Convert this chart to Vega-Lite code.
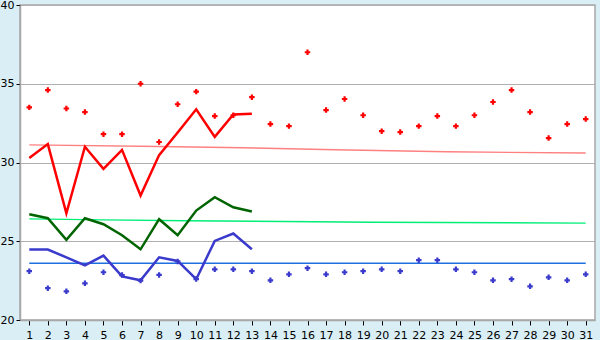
{
  "$schema": "https://vega.github.io/schema/vega-lite/v6.json",
  "autosize": {"type": "none"},
  "width": 575,
  "height": 315,
  "padding": {"left": 20, "top": 5, "right": 5, "bottom": 20},
  "background": "#d9eef5",
  "view": {"fill": "white", "stroke": "#a8a8a8", "strokeWidth": 1.5},
  "config": {
    "axis": {"labelFont": "DejaVu Sans", "labelFontSize": 11, "labelColor": "black", "tickColor": "black", "domainColor": "#a8a8a8", "domainWidth": 1.5, "tickSize": 4, "title": null}
  },
  "datasets": {
    "hi": [
      {"day": 1, "v": 33.5}, {"day": 2, "v": 34.6}, {"day": 3, "v": 33.43}, {"day": 4, "v": 33.2}, {"day": 5, "v": 31.8},
      {"day": 6, "v": 31.8}, {"day": 7, "v": 35.0}, {"day": 8, "v": 31.3}, {"day": 9, "v": 33.7}, {"day": 10, "v": 34.5},
      {"day": 11, "v": 32.95}, {"day": 12, "v": 33.0}, {"day": 13, "v": 34.15}, {"day": 14, "v": 32.44}, {"day": 15, "v": 32.31},
      {"day": 16, "v": 37.0}, {"day": 17, "v": 33.33}, {"day": 18, "v": 34.03}, {"day": 19, "v": 33.0}, {"day": 20, "v": 31.99},
      {"day": 21, "v": 31.93}, {"day": 22, "v": 32.31}, {"day": 23, "v": 32.95}, {"day": 24, "v": 32.31}, {"day": 25, "v": 33.0},
      {"day": 26, "v": 33.84}, {"day": 27, "v": 34.6}, {"day": 28, "v": 33.2}, {"day": 29, "v": 31.55}, {"day": 30, "v": 32.44},
      {"day": 31, "v": 32.76}
    ],
    "lo": [
      {"day": 1, "v": 23.1}, {"day": 2, "v": 22.02}, {"day": 3, "v": 21.82}, {"day": 4, "v": 22.33}, {"day": 5, "v": 23.03},
      {"day": 6, "v": 22.85}, {"day": 7, "v": 22.5}, {"day": 8, "v": 22.86}, {"day": 9, "v": 23.72}, {"day": 10, "v": 22.6},
      {"day": 11, "v": 23.22}, {"day": 12, "v": 23.22}, {"day": 13, "v": 23.1}, {"day": 14, "v": 22.52}, {"day": 15, "v": 22.9},
      {"day": 16, "v": 23.29}, {"day": 17, "v": 22.9}, {"day": 18, "v": 23.03}, {"day": 19, "v": 23.1}, {"day": 20, "v": 23.22},
      {"day": 21, "v": 23.1}, {"day": 22, "v": 23.8}, {"day": 23, "v": 23.8}, {"day": 24, "v": 23.22}, {"day": 25, "v": 23.03},
      {"day": 26, "v": 22.52}, {"day": 27, "v": 22.59}, {"day": 28, "v": 22.14}, {"day": 29, "v": 22.71}, {"day": 30, "v": 22.52},
      {"day": 31, "v": 22.9}
    ],
    "lines": [
      {"day": 1, "s": "max", "v": 30.28}, {"day": 2, "s": "max", "v": 31.17}, {"day": 3, "s": "max", "v": 26.78}, {"day": 4, "s": "max", "v": 31.0},
      {"day": 5, "s": "max", "v": 29.6}, {"day": 6, "s": "max", "v": 30.8}, {"day": 7, "s": "max", "v": 27.9}, {"day": 8, "s": "max", "v": 30.47},
      {"day": 9, "s": "max", "v": 31.9}, {"day": 10, "s": "max", "v": 33.38}, {"day": 11, "s": "max", "v": 31.63}, {"day": 12, "s": "max", "v": 33.05},
      {"day": 13, "s": "max", "v": 33.1},
      {"day": 1, "s": "mid", "v": 26.72}, {"day": 2, "s": "mid", "v": 26.46}, {"day": 3, "s": "mid", "v": 25.09}, {"day": 4, "s": "mid", "v": 26.46},
      {"day": 5, "s": "mid", "v": 26.08}, {"day": 6, "s": "mid", "v": 25.38}, {"day": 7, "s": "mid", "v": 24.49}, {"day": 8, "s": "mid", "v": 26.4},
      {"day": 9, "s": "mid", "v": 25.38}, {"day": 10, "s": "mid", "v": 26.95}, {"day": 11, "s": "mid", "v": 27.8}, {"day": 12, "s": "mid", "v": 27.16},
      {"day": 13, "s": "mid", "v": 26.89},
      {"day": 1, "s": "min", "v": 24.47}, {"day": 2, "s": "min", "v": 24.47}, {"day": 3, "s": "min", "v": 23.98}, {"day": 4, "s": "min", "v": 23.47},
      {"day": 5, "s": "min", "v": 24.09}, {"day": 6, "s": "min", "v": 22.77}, {"day": 7, "s": "min", "v": 22.52}, {"day": 8, "s": "min", "v": 23.98},
      {"day": 9, "s": "min", "v": 23.75}, {"day": 10, "s": "min", "v": 22.59}, {"day": 11, "s": "min", "v": 25.02}, {"day": 12, "s": "min", "v": 25.49},
      {"day": 13, "s": "min", "v": 24.49},
      {"day": 1, "s": "maxAvg", "v": 31.12}, {"day": 8, "s": "maxAvg", "v": 31.02}, {"day": 12.5, "s": "maxAvg", "v": 30.94},
      {"day": 17.5, "s": "maxAvg", "v": 30.81}, {"day": 23.5, "s": "maxAvg", "v": 30.68}, {"day": 31, "s": "maxAvg", "v": 30.6},
      {"day": 1, "s": "midAvg", "v": 26.42}, {"day": 5, "s": "midAvg", "v": 26.36}, {"day": 9.5, "s": "midAvg", "v": 26.3},
      {"day": 19.5, "s": "midAvg", "v": 26.21}, {"day": 31, "s": "midAvg", "v": 26.15},
      {"day": 1, "s": "minAvg", "v": 23.6}, {"day": 31, "s": "minAvg", "v": 23.6}
    ]
  },
  "encoding": {
    "x": {
      "field": "day", "type": "quantitative",
      "scale": {"domain": [0.5, 31.5], "nice": false, "zero": false},
      "axis": {"values": [1,2,3,4,5,6,7,8,9,10,11,12,13,14,15,16,17,18,19,20,21,22,23,24,25,26,27,28,29,30,31], "grid": false, "labelPadding": 4, "tickSize": 5, "labelFlush": false, "labelOverlap": false}
    },
    "y": {
      "field": "v", "type": "quantitative",
      "scale": {"domain": [20, 40], "nice": false, "zero": false},
      "axis": {"values": [20, 25, 30, 35, 40], "grid": true, "gridColor": "#b0b0b0", "gridWidth": 1.2, "labelPadding": 2, "labelFlush": false}
    }
  },
  "layer": [
    {
      "data": {"name": "lines"},
      "transform": [{"filter": "indexof(['maxAvg','midAvg','minAvg'], datum.s) >= 0"}],
      "mark": {"type": "line", "strokeWidth": 1.4},
      "encoding": {
        "detail": {"field": "s"},
        "color": {"field": "s", "type": "nominal", "legend": null,
          "scale": {"domain": ["maxAvg", "midAvg", "minAvg", "max", "mid", "min"], "range": ["#ff8080", "#00ee77", "#1e70e0", "#ff0000", "#006400", "#3a3acc"]}}
      }
    },
    {
      "data": {"name": "lines"},
      "transform": [{"filter": "indexof(['max','mid','min'], datum.s) >= 0"}],
      "mark": {"type": "line", "strokeWidth": 2.5},
      "encoding": {
        "detail": {"field": "s"},
        "color": {"field": "s", "type": "nominal", "legend": null}
      }
    },
    {
      "data": {"name": "hi"},
      "mark": {"type": "point", "shape": "cross", "filled": true, "size": 30, "color": "#ff0000", "opacity": 1},
      "encoding": {}
    },
    {
      "data": {"name": "lo"},
      "mark": {"type": "point", "shape": "cross", "filled": true, "size": 30, "color": "#3a3acc", "opacity": 1},
      "encoding": {}
    }
  ]
}
